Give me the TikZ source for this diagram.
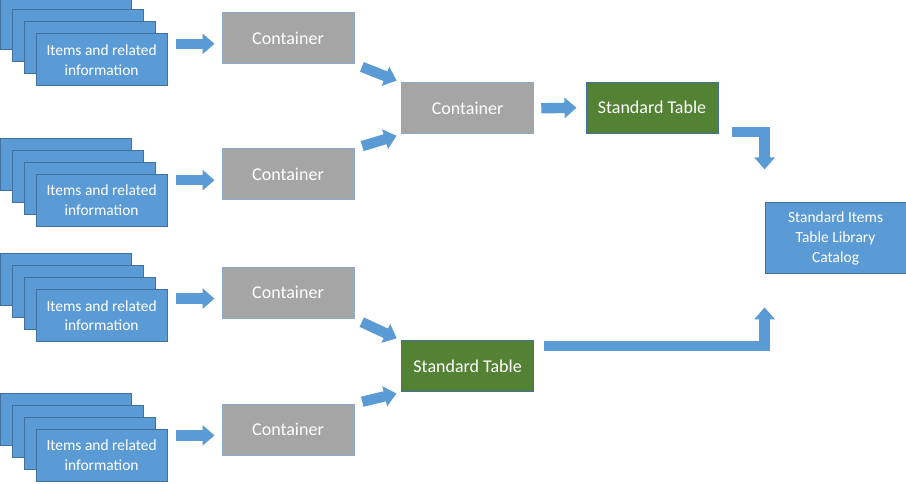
\documentclass[tikz,border=0pt]{standalone}
\usepackage{fontspec}
\setmainfont{Carlito}
\usepackage{xcolor}
\usepackage{tikz}
\usetikzlibrary{arrows.meta, positioning}

\definecolor{itemblue}{HTML}{5B9BD5}
\definecolor{itemline}{HTML}{41719C}
\definecolor{boxgray}{HTML}{A5A5A5}
\definecolor{boxline}{HTML}{8EA9C8}
\definecolor{tablegreen}{HTML}{548235}

\begin{document}
\begin{tikzpicture}[>=Triangle,
    item/.style={rectangle, draw=itemline, fill=itemblue, line width=0.7pt, text=white,
      minimum width=3.275cm, minimum height=1.3cm, align=center, inner sep=0pt,
      font=\fontsize{11}{14}\selectfont},
    container/.style={rectangle, draw=boxline, fill=boxgray, line width=0.7pt, text=white,
      minimum width=3.3cm, minimum height=1.275cm, align=center, inner sep=0pt,
      font=\fontsize{12.8}{15}\selectfont},
    stdtable/.style={container, draw=itemline, fill=tablegreen},
    flow/.style={draw=itemblue, line width=0.26cm, -{Triangle[length=0.3cm, width=0.5cm]}}]
    \useasboundingbox (0,0) rectangle (22.65,12.1);

    % stack 1
    \node[item] (item1a) at (1.64, 11.5) {};
    \node[item] (item1b) at (1.94, 11.2) {};
    \node[item] (item1c) at (2.24, 10.9) {};
    \node[item] (item1) at (2.54, 10.6) {Items and related\\information};

    % stack 2
    \node[item] (item2a) at (1.64, 7.99) {};
    \node[item] (item2b) at (1.94, 7.69) {};
    \node[item] (item2c) at (2.24, 7.39) {};
    \node[item] (item2) at (2.54, 7.09) {Items and related\\information};

    % stack 3
    \node[item] (item3a) at (1.64, 5.11) {};
    \node[item] (item3b) at (1.94, 4.81) {};
    \node[item] (item3c) at (2.24, 4.51) {};
    \node[item] (item3) at (2.54, 4.21) {Items and related\\information};

    % stack 4
    \node[item] (item4a) at (1.64, 1.625) {};
    \node[item] (item4b) at (1.94, 1.325) {};
    \node[item] (item4c) at (2.24, 1.025) {};
    \node[item] (item4) at (2.54, 0.725) {Items and related\\information};

    \node[container] (cont1) at (7.2, 11.15) {Container};
    \node[container] (cont2) at (7.2, 7.74) {Container};
    \node[container] (cont3) at (7.2, 4.78) {Container};
    \node[container] (cont4) at (7.2, 1.36) {Container};

    \node[container] (mid) at (11.69, 9.39) {Container};
    \node[stdtable] (st1) at (16.3, 9.41) {Standard Table};
    \node[stdtable] (st2) at (11.69, 2.94) {Standard Table};

    \node[item, minimum width=3.525cm, minimum height=1.775cm] (cat) at (20.89, 6.14)
      {Standard Items\\Table Library\\Catalog};

    \draw[flow, shorten <=0.2cm, shorten >=0.175cm] (item1.east |- cont1.185) -- (cont1.185);
    \draw[flow, shorten <=0.2cm, shorten >=0.175cm] (item2.east |- cont2.185) -- (cont2.185);
    \draw[flow, shorten <=0.2cm, shorten >=0.175cm] (item3.east |- cont3.185) -- (cont3.185);
    \draw[flow, shorten <=0.2cm, shorten >=0.175cm] (item4.east |- cont4.185) -- (cont4.185);

    \draw[flow, shorten <=0.2cm, shorten >=0.12cm] (cont1.south east) -- (mid.north west);
    \draw[flow, shorten <=0.2cm, shorten >=0.12cm] (cont2.north east) -- (mid.south west);
    \draw[flow, shorten <=0.2cm, shorten >=0.12cm] (cont3.south east) -- (st2.north west);
    \draw[flow, shorten <=0.2cm, shorten >=0.12cm] (cont4.north east) -- (st2.south west);

    \draw[flow, shorten <=0.18cm, shorten >=0.225cm] (mid.east) -- (st1.west);

    \draw[flow, shorten >=0.825cm] ([xshift=0.35cm, yshift=0.04cm]st1.south east) -| (cat.north west);
    \draw[flow, shorten >=0.825cm] ([xshift=0.25cm, yshift=-0.14cm]st2.north east) -| (cat.south west);

  \end{tikzpicture}
\end{document}
